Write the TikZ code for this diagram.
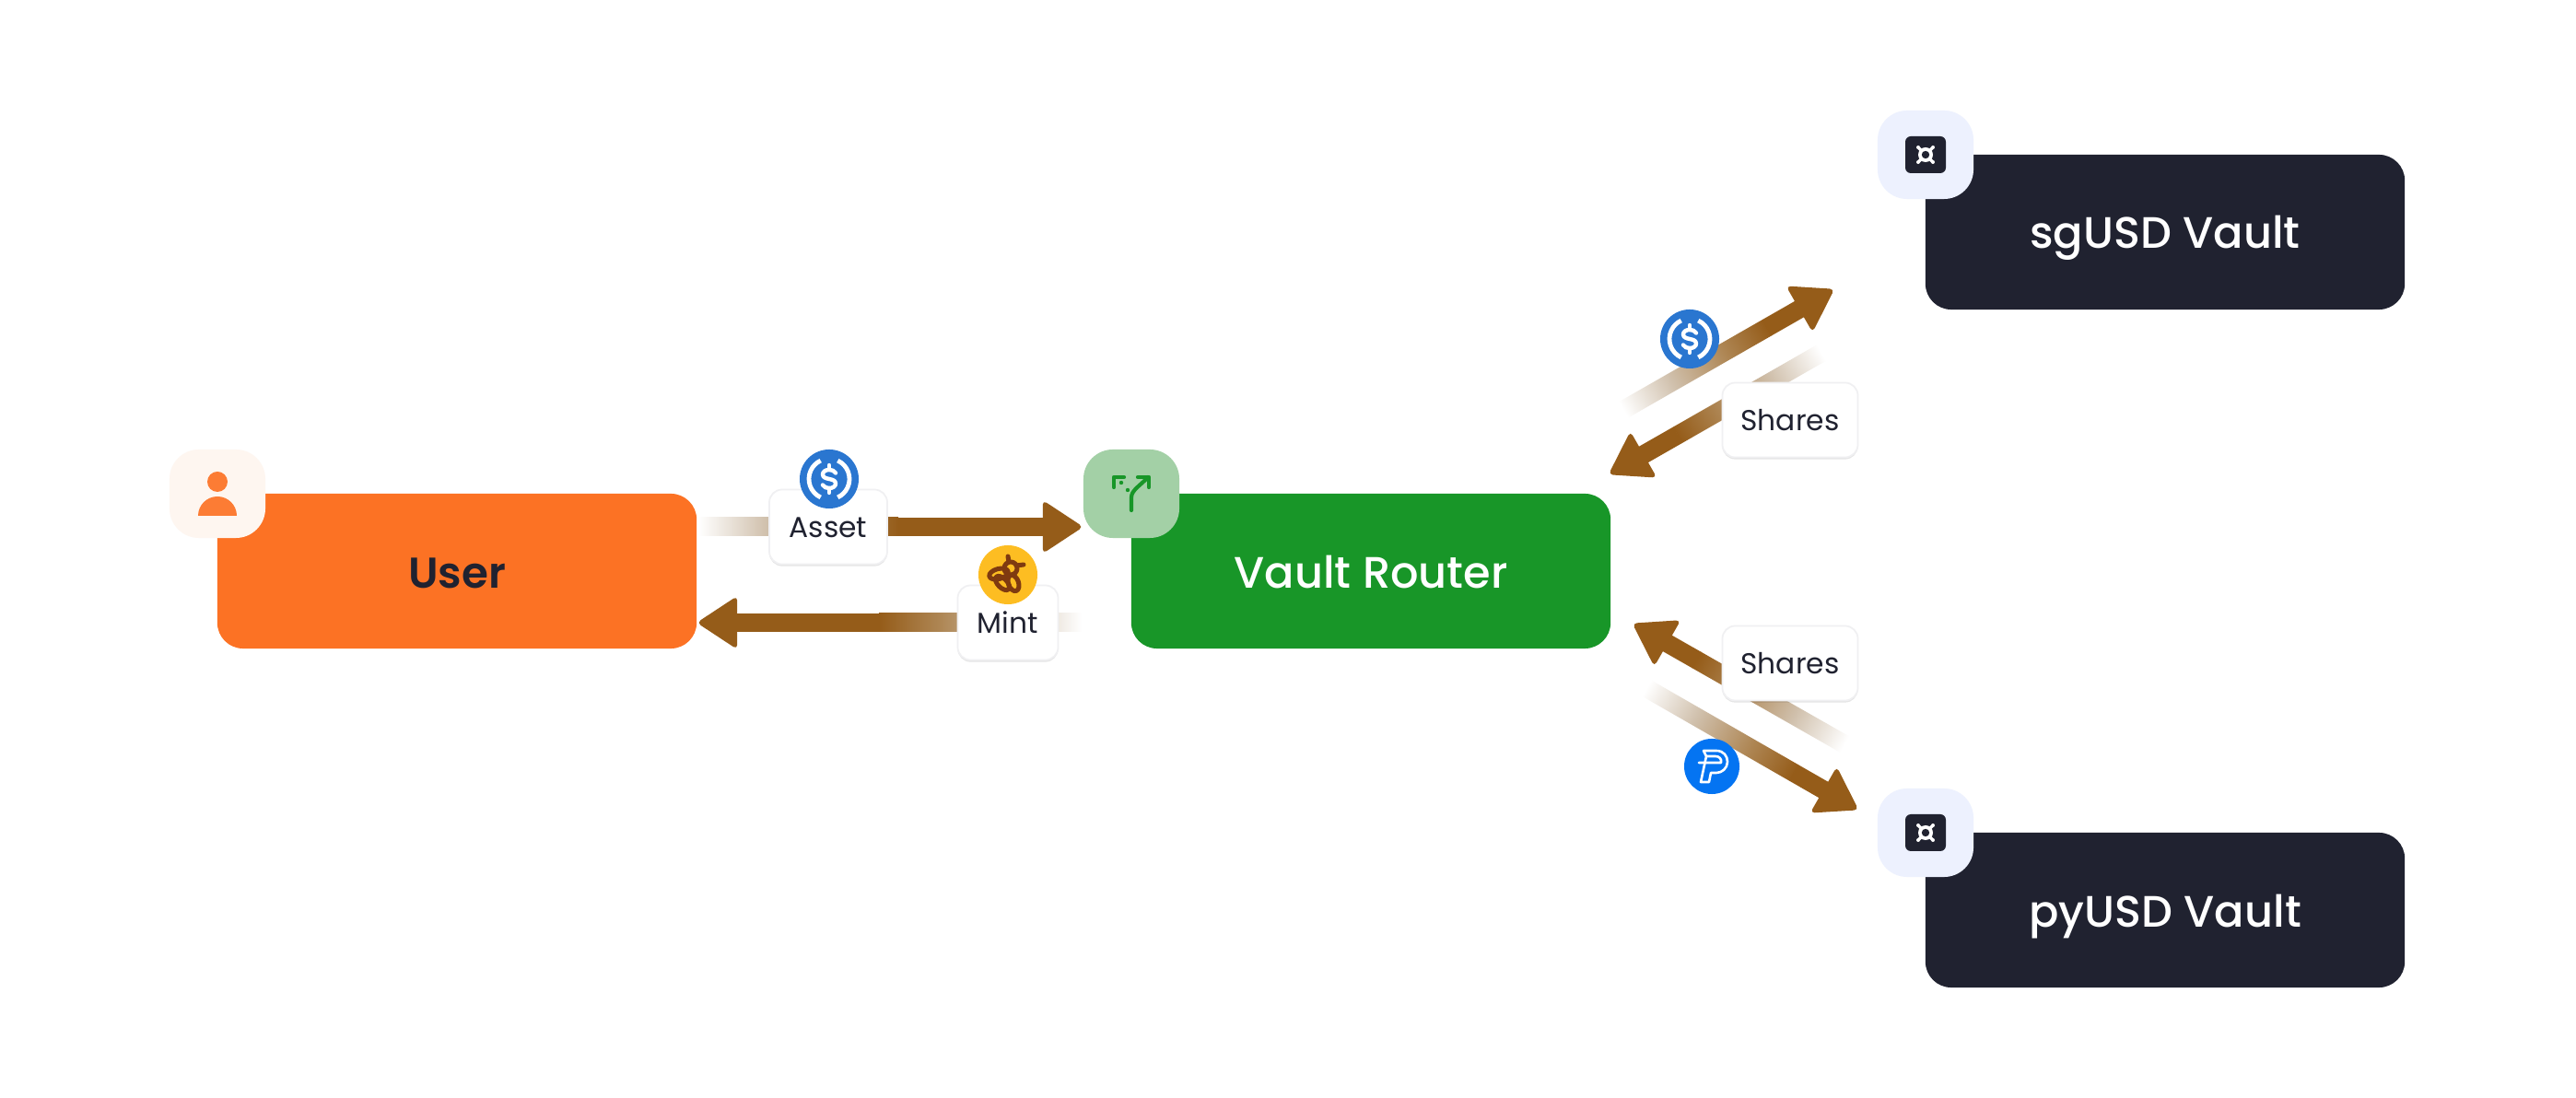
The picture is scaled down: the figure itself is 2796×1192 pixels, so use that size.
\documentclass[tikz,border=0pt]{standalone}
\usepackage{fontspec}
\setmainfont{Poppins}
\newfontfamily\titlefont{Poppins SemiBold}
\newfontfamily\whitefont{Poppins Medium}
\usetikzlibrary{calc,shadows}
\definecolor{arrowbrown}{HTML}{955C19}
\definecolor{fademid}{HTML}{D0C0AC}
\definecolor{fadehigh}{HTML}{AE8654}
\definecolor{darkbox}{HTML}{202230}
\definecolor{userorange}{HTML}{FC7224}
\definecolor{routergreen}{HTML}{189628}
\definecolor{usericonbg}{HTML}{FEF6F0}
\definecolor{routericonbg}{HTML}{A3D0A6}
\definecolor{vaulticonbg}{HTML}{EDF1FE}
\definecolor{usdcblue}{HTML}{2A76D0}
\definecolor{pyblue}{HTML}{0474F2}
\definecolor{beeyellow}{HTML}{FDBD22}
\definecolor{beebrown}{HTML}{7F3A10}
\definecolor{labeledge}{HTML}{F0F0F2}
\pgfdeclarehorizontalshading{arrowfade}{100bp}{color(0bp)=(white); color(25bp)=(white); color(42bp)=(fademid); color(60bp)=(fadehigh); color(75bp)=(arrowbrown); color(100bp)=(arrowbrown)}
\tikzset{
  mainbox/.style={rectangle,rounded corners=0.28cm,minimum width=5.2cm,minimum height=1.68cm,inner sep=0pt,
    text height=0.5cm,text depth=0.14cm,
    font=\whitefont\fontsize{13.6pt}{16pt}\selectfont},
  iconbox/.style={rectangle,rounded corners=0.32cm,minimum width=1.04cm,minimum height=0.96cm,inner sep=0pt},
  tag/.style={rectangle,rounded corners=0.14cm,fill=white,draw=labeledge,line width=0.5pt,inner sep=0pt,
    minimum height=0.81cm,text=darkbox,text height=0.34cm,text depth=0.1cm,
    font=\fontsize{8.9pt}{11pt}\selectfont,
    drop shadow={shadow xshift=0pt,shadow yshift=-0.6pt,opacity=0.1,fill=black}},
  coin/.style={circle,inner sep=0pt,minimum size=#1},
  glyph/.style={line cap=round,line join=round},
}
% gradient connector: from #1 to #2, fade length #3 (in picture units)
\newcommand{\gradarrow}[3]{%
  \pgfpointdiff{\pgfpointanchor{#1}{center}}{\pgfpointanchor{#2}{center}}%
  \pgfgetlastxy{\myDx}{\myDy}%
  \pgfmathsetmacro\myAng{atan2(\myDy,\myDx)}%
  \pgfmathsetmacro\myLen{veclen(\myDx,\myDy)/0.284528}%
  \begin{scope}[transform canvas={shift={(#1)},rotate=\myAng}]
    \shade[shading=arrowfade] (0,-10) rectangle (#3,10);
    \fill[arrowbrown] (#3-0.5,-10) rectangle (\myLen-39,10);
    \fill[arrowbrown,rounded corners=0.05cm] (\myLen-41,-29) -- (\myLen+3,0) -- (\myLen-41,29) -- cycle;
  \end{scope}%
}
\newcommand{\usdcglyph}[1]{%
  \begin{scope}[shift={(#1)}]
    \draw[white,line width=4.8*0.2845pt] (115:22) arc[start angle=115,end angle=245,radius=22];
    \draw[white,line width=4.8*0.2845pt] (-65:22) arc[start angle=-65,end angle=65,radius=22];
    \draw[white,glyph,line width=4.4*0.2845pt] (7,-6.5) .. controls (5.5,-9) and (3,-10) .. (0,-10) .. controls (-4,-10) and (-7,-8) .. (-7,-5) .. controls (-7,-1.5) and (-3.5,-.8) .. (0,0) .. controls (3.5,.8) and (7,1.5) .. (7,5) .. controls (7,8) and (4,10) .. (0,10) .. controls (-3,10) and (-5.5,9) .. (-7,6.5);
    \draw[white,glyph,line width=4.4*0.2845pt] (0,-10) -- (0,-15) (0,10) -- (0,15);
  \end{scope}%
}
\newcommand{\vaultglyph}[1]{%
  \begin{scope}[shift={(#1)}]
    \fill[darkbox,rounded corners=0.06cm] (-22,-20) rectangle (22,20);
    \draw[white,glyph,line width=3.4*0.2845pt] (-7.5,-7.5) -- (7.5,7.5) (-7.5,7.5) -- (7.5,-7.5);
    \fill[white] (0,0) circle[radius=8];
    \fill[darkbox] (0,0) circle[radius=4.2];
    \foreach \sx in {-1,1}{\foreach \sy in {-1,1}{\fill[white] (\sx*8,\sy*8) circle[radius=2];}}
  \end{scope}%
}
\begin{document}
\begin{tikzpicture}[x=0.01cm,y=-0.01cm]
\useasboundingbox[fill=white] (0,0) rectangle (2796,1192);

% free ends of the connectors
\coordinate (assetS) at (758,572);  \coordinate (assetE) at (1173,572);
\coordinate (mintS)  at (1174,676); \coordinate (mintE)  at (759,676);
\coordinate (upS)    at (1762,445); \coordinate (upE)    at (1989,315);
\coordinate (shS)    at (1977,383); \coordinate (shE)    at (1748,514);
\coordinate (sh2S)   at (2002,808); \coordinate (sh2E)   at (1774,678);
\coordinate (dnS)    at (1787,747); \coordinate (dnE)    at (2015,878);

% connectors
\gradarrow{assetS}{assetE}{217}
\gradarrow{mintS}{mintE}{220}
\gradarrow{upS}{upE}{180}
\gradarrow{shS}{shE}{180}
\gradarrow{sh2S}{sh2E}{185}
\gradarrow{dnS}{dnE}{185}

% main boxes
\node[mainbox,fill=userorange,text=darkbox,font=\titlefont\fontsize{13.3pt}{16pt}\selectfont] (user) at (496,620) {User};
\node[mainbox,fill=routergreen,text=white] (router) at (1488,620) {Vault Router};
\node[mainbox,fill=darkbox,text=white] (sgvault) at (2350,252) {sgUSD Vault};
\node[mainbox,fill=darkbox,text=white] (pyvault) at (2350,988) {pyUSD Vault};

% icon tiles
\node[iconbox,fill=usericonbg] (usericon) at (236,536) {};
\node[iconbox,fill=routericonbg] (routericon) at (1228,536) {};
\node[iconbox,fill=vaulticonbg] (sgicon) at (2090,168) {};
\node[iconbox,fill=vaulticonbg] (pyicon) at (2090,904) {};

% person glyph
\fill[userorange!92!usericonbg] (236,523) circle[radius=11];
\fill[userorange!92!usericonbg] (215,560) arc[start angle=180,end angle=360,radius=21] -- cycle;

% router glyph
\begin{scope}[routergreen,line width=4.2*0.2845pt,glyph]
  \draw (1228,554) -- (1228,540) .. controls (1228,532) and (1238,527) .. (1246,518);
  \draw (1235,518) -- (1247,518) -- (1247,529);
  \draw (1220,518) -- (1209,518) -- (1209,529);
  \fill (1217,524) circle[radius=2.2];
  \fill (1224,532) circle[radius=2.2];
\end{scope}

% vault glyphs
\vaultglyph{sgicon}
\vaultglyph{pyicon}

% tags
\node[tag,minimum width=1.28cm] (asset) at (899,572) {Asset};
\node[tag,minimum width=1.09cm] (mint) at (1094,676) {Mint};
\node[tag,minimum width=1.47cm] (shares1) at (1943,456) {Shares};
\node[tag,minimum width=1.47cm] (shares2) at (1943,720) {Shares};

% coins
\node[coin=0.64cm,fill=usdcblue] (usdc1) at (900,520) {};
\usdcglyph{usdc1}
\node[coin=0.64cm,fill=usdcblue] (usdc2) at (1834,368) {};
\usdcglyph{usdc2}

\node[coin=0.64cm,fill=beeyellow] (bee) at (1094,624) {};
\begin{scope}[shift={(bee)},beebrown,line width=5*0.2845pt,glyph]
  \draw[shift={(-10,-1)},rotate=15] (0,0) ellipse[x radius=10.5,y radius=5.5];
  \draw[shift={(6,9)},rotate=-70] (0,0) ellipse[x radius=9,y radius=5.5];
  \draw[shift={(-6,9)},rotate=-45] (0,0) ellipse[x radius=9.5,y radius=5];
  \draw (3,-7) circle[radius=7];
  \draw (1,-14) -- (0,-20) (9,-10) -- (17,-11);
\end{scope}

\node[coin=0.6cm,fill=pyblue] (py) at (1858,832) {};
\begin{scope}[shift={(py)},white,line width=2.6*0.2845pt,glyph]
  \draw (-9,-17) -- (5,-17) .. controls (13,-17) and (17,-11) .. (17,-5) .. controls (17,2) and (11,7) .. (5,7) -- (-1,7) -- (-3,17) -- (-12,17) -- (-6,-11) -- cycle;
  \draw (-14,-4) -- (10,-4) .. controls (11,-8) and (8,-11) .. (4,-11) -- (-6,-11);
\end{scope}
\end{tikzpicture}
\end{document}
